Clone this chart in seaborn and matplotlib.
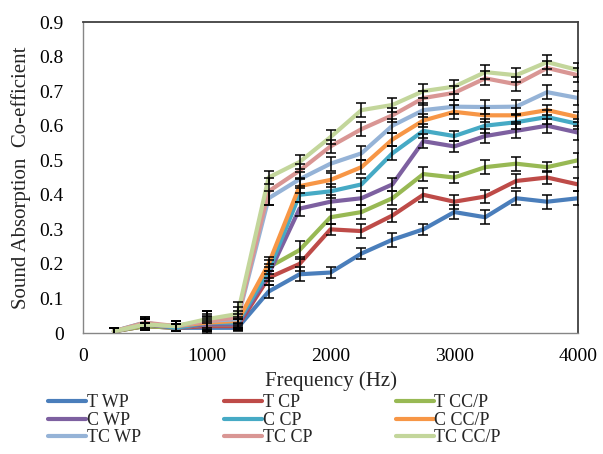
import matplotlib
matplotlib.use("Agg")
import matplotlib.pyplot as plt
import seaborn as sns
import pandas as pd
from matplotlib.lines import Line2D

freq = [250, 500, 750, 1000, 1250, 1500, 1750, 2000, 2250, 2500, 2750, 3000, 3250, 3500, 3750, 4000]

series_names = ["T WP", "T CP", "T CC/P", "C WP", "C CP", "C CC/P", "TC WP", "TC CP", "TC CC/P"]

t_wp = [0.005, 0.02, 0.015, 0.015, 0.015, 0.12, 0.17, 0.175, 0.23, 0.27, 0.30, 0.35, 0.335, 0.39, 0.38, 0.39]
t_cp = [0.005, 0.02, 0.015, 0.02, 0.02, 0.16, 0.20, 0.30, 0.295, 0.34, 0.40, 0.38, 0.395, 0.44, 0.45, 0.43]
t_ccp = [0.005, 0.02, 0.015, 0.025, 0.025, 0.19, 0.24, 0.335, 0.35, 0.39, 0.46, 0.45, 0.48, 0.49, 0.48, 0.50]
c_wp = [0.005, 0.025, 0.015, 0.025, 0.025, 0.17, 0.36, 0.38, 0.39, 0.43, 0.555, 0.54, 0.57, 0.585, 0.60, 0.58]
c_cp = [0.005, 0.03, 0.015, 0.03, 0.03, 0.18, 0.40, 0.41, 0.43, 0.52, 0.585, 0.57, 0.60, 0.61, 0.625, 0.605]
c_ccp = [0.005, 0.025, 0.02, 0.03, 0.035, 0.20, 0.425, 0.443, 0.48, 0.56, 0.615, 0.64, 0.63, 0.63, 0.645, 0.625]
tc_wp = [0.005, 0.025, 0.02, 0.035, 0.04, 0.39, 0.445, 0.49, 0.52, 0.60, 0.645, 0.655, 0.654, 0.655, 0.697, 0.68]
tc_cp = [0.005, 0.03, 0.02, 0.035, 0.045, 0.41, 0.47, 0.54, 0.59, 0.63, 0.68, 0.695, 0.737, 0.72, 0.767, 0.746]
tc_ccp = [0.005, 0.025, 0.02, 0.04, 0.055, 0.45, 0.495, 0.567, 0.645, 0.66, 0.70, 0.713, 0.755, 0.746, 0.784, 0.761]

err_t_wp = [0.01, 0.01, 0.01, 0.015, 0.01, 0.02, 0.02, 0.015, 0.015, 0.02, 0.015, 0.02, 0.02, 0.02, 0.02, 0.02]
err_t_cp = [0.01, 0.01, 0.01, 0.015, 0.01, 0.02, 0.02, 0.015, 0.02, 0.02, 0.02, 0.02, 0.02, 0.02, 0.02, 0.02]
err_t_ccp = [0.01, 0.01, 0.01, 0.015, 0.015, 0.02, 0.025, 0.02, 0.02, 0.02, 0.02, 0.015, 0.02, 0.02, 0.015, 0.02]
err_c_wp = [0.01, 0.015, 0.01, 0.02, 0.015, 0.02, 0.02, 0.02, 0.02, 0.02, 0.02, 0.015, 0.02, 0.02, 0.02, 0.02]
err_c_cp = [0.01, 0.015, 0.01, 0.02, 0.015, 0.02, 0.02, 0.02, 0.02, 0.02, 0.02, 0.015, 0.02, 0.02, 0.02, 0.015]
err_c_ccp = [0.01, 0.015, 0.015, 0.025, 0.02, 0.02, 0.02, 0.02, 0.02, 0.02, 0.02, 0.02, 0.02, 0.02, 0.015, 0.015]
err_tc_wp = [0.01, 0.015, 0.015, 0.03, 0.025, 0.02, 0.02, 0.02, 0.02, 0.02, 0.02, 0.02, 0.02, 0.02, 0.02, 0.02]
err_tc_cp = [0.01, 0.015, 0.015, 0.03, 0.03, 0.04, 0.02, 0.02, 0.02, 0.02, 0.02, 0.02, 0.02, 0.02, 0.02, 0.02]
err_tc_ccp = [0.01, 0.015, 0.015, 0.025, 0.035, 0.02, 0.02, 0.02, 0.02, 0.02, 0.02, 0.02, 0.02, 0.02, 0.02, 0.02]

values = [t_wp, t_cp, t_ccp, c_wp, c_cp, c_ccp, tc_wp, tc_cp, tc_ccp]
errors = [err_t_wp, err_t_cp, err_t_ccp, err_c_wp, err_c_cp, err_c_ccp, err_tc_wp, err_tc_cp, err_tc_ccp]
colors = ["#4A7EBB", "#BE4B48", "#98B954", "#7D60A0", "#46AAC5", "#F79646",
          "#95B3D7", "#D99694", "#C3D69B"]

sns.set_theme(style="white")
plt.rcParams["font.family"] = ["Liberation Serif", "DejaVu Serif"]

rows = []
for name, vals in zip(series_names, values):
    for f, v in zip(freq, vals):
        rows.append({"Frequency": f, "Value": v, "Series": name})
df = pd.DataFrame(rows)

fig = plt.figure(figsize=(6.03, 4.54), dpi=100)
ax = fig.add_axes([0.1376, 0.2665, 0.821, 0.685])

sns.lineplot(data=df, x="Frequency", y="Value", hue="Series", hue_order=series_names,
             palette=colors, linewidth=3.0, ax=ax, legend=False, zorder=2)
for ln in ax.lines:
    ln.set_solid_joinstyle("round")
    ln.set_solid_capstyle("round")

for vals, errs in zip(values, errors):
    ax.errorbar(freq, vals, yerr=errs, fmt="none", ecolor="black", elinewidth=1.1,
                capsize=3.5, capthick=1.1, zorder=3)

ax.set_xlim(0, 4000)
ax.set_ylim(0, 0.9)
ax.set_xticks([0, 1000, 2000, 3000, 4000])
yt = [0, 0.1, 0.2, 0.3, 0.4, 0.5, 0.6, 0.7, 0.8, 0.9]
ax.set_yticks(yt)
ax.set_yticklabels(["0" if v == 0 else f"{v:.1f}" for v in yt])
ax.tick_params(axis="both", direction="out", length=5, width=1, color="#868686",
               labelsize=14, labelcolor="black")
ax.tick_params(axis="y", pad=9)
ax.tick_params(axis="x", pad=6)

for side in ["left", "bottom"]:
    ax.spines[side].set_color("#868686")
    ax.spines[side].set_linewidth(1.0)
for side in ["top", "right"]:
    ax.spines[side].set_color("#404040")
    ax.spines[side].set_linewidth(1.3)

ax.set_xlabel("Frequency (Hz)", fontsize=15, labelpad=4)
ax.set_ylabel("Sound Absorption  Co-efficient", fontsize=15, labelpad=6)

handles = [Line2D([0], [0], color=c, linewidth=3.0) for c in colors]
order = [0, 3, 6, 1, 4, 7, 2, 5, 8]
fig.legend([handles[i] for i in order], [series_names[i] for i in order],
           loc="upper left", bbox_to_anchor=(0.071, 0.143), ncol=3,
           frameon=False, fontsize=13, handlelength=2.1, handletextpad=0.05,
           columnspacing=4.6, labelspacing=0.02, borderaxespad=0, borderpad=0.3)

fig.savefig("out.png", dpi=100)
